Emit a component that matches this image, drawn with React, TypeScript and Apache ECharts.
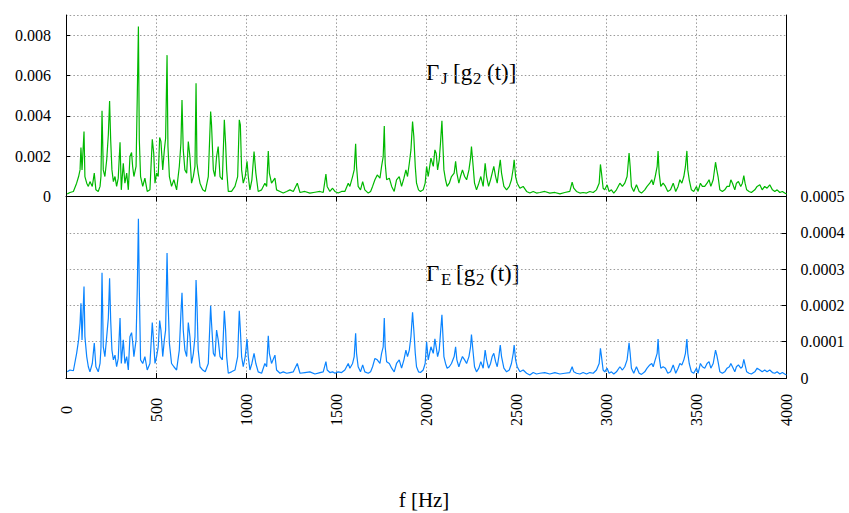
import React, { useEffect, useRef } from "react";
import * as echarts from "echarts";

// Frequency samples (Hz)
const FREQ_HZ: number[] = [
  7, 22, 41, 59, 70, 78, 83, 89, 100, 105, 115, 124, 133, 146, 157, 166, 179, 189, 194, 200,
  207, 216, 226, 235, 242, 248, 255, 263, 272, 281, 290, 300, 307, 318, 327, 337, 346, 355, 364, 370,
  377, 389, 396, 402, 407, 414, 426, 438, 451, 466, 479, 487, 494, 503, 512, 520, 527, 537, 546, 553,
  561, 566, 574, 586, 599, 614, 629, 638, 644, 651, 660, 670, 679, 688, 697, 707, 716, 722, 727, 734,
  744, 759, 773, 790, 803, 808, 818, 827, 836, 845, 855, 868, 879, 886, 892, 901, 919, 938, 953, 962,
  968, 975, 984, 995, 1005, 1012, 1021, 1032, 1044, 1054, 1067, 1086, 1104, 1114, 1123, 1129, 1141, 1160, 1169, 1188,
  1206, 1225, 1243, 1262, 1284,
  1299, 1326, 1354, 1382, 1410, 1428, 1443, 1450, 1465, 1480, 1493, 1511, 1530, 1548, 1567, 1576, 1591, 1600, 1608, 1613,
  1622, 1635, 1647, 1659, 1678, 1691, 1702, 1715, 1728, 1743, 1752, 1761, 1767, 1772, 1780, 1795, 1808, 1822, 1835, 1850,
  1863, 1876, 1887, 1896, 1906, 1915, 1924, 1931, 1939, 1946, 1957, 1968, 1983, 1994, 2002, 2011, 2026, 2039, 2048, 2055,
  2063, 2072, 2079, 2087, 2092, 2098, 2107, 2116, 2128, 2140, 2155, 2163, 2170, 2181, 2190, 2201, 2213, 2224, 2237, 2246,
  2251, 2259, 2268, 2279, 2292, 2303, 2316, 2327, 2335, 2346, 2357, 2366, 2375, 2385, 2394, 2403, 2411, 2418, 2431, 2446,
  2461, 2473, 2483, 2488, 2496, 2505, 2520, 2538, 2557, 2575, 2594, 2612,
  2631, 2658, 2686, 2714, 2742, 2769, 2797, 2810, 2819, 2834, 2853, 2871, 2890, 2908, 2927, 2945, 2960, 2967, 2973, 2982,
  2991, 3004, 3015, 3028, 3041, 3056, 3075, 3089, 3102, 3115, 3126, 3132, 3139, 3152, 3167, 3182, 3195, 3213, 3226, 3241,
  3252, 3260, 3271, 3282, 3287, 3293, 3302, 3315, 3328, 3341, 3356, 3371, 3385, 3398, 3408, 3419, 3430, 3439, 3447, 3452,
  3460, 3472, 3485, 3500, 3509, 3522, 3533, 3546, 3559, 3570, 3580, 3593, 3606, 3613, 3620, 3630, 3644, 3657, 3670, 3683,
  3691, 3700, 3713, 3722, 3733, 3746, 3755, 3763, 3770, 3779, 3792, 3805, 3824, 3837, 3852, 3865, 3879, 3892, 3907, 3922,
  3935, 3948, 3963, 3977, 3990, 4000,
];

// Γ_J[g2(t)] values, in units of 1e-3
const GAMMA_J_E3: number[] = [
  0.13, 0.20, 0.25, 0.66, 0.99, 1.32, 2.43, 1.32, 3.22, 0.99, 0.66, 0.50, 0.74, 0.50, 1.16, 0.33, 0.25, 0.50, 0.99, 4.25,
  1.32, 0.99, 1.82, 3.06, 4.74, 2.81, 1.32, 0.74, 0.99, 0.50, 0.91, 2.69, 0.33, 1.65, 0.66, 1.16, 0.33, 1.98, 2.18, 1.49,
  0.99, 1.49, 5.12, 8.43, 2.81, 0.99, 0.50, 0.91, 0.25, 0.33, 2.84, 2.15, 0.66, 1.16, 0.99, 2.93, 2.73, 1.32, 2.31, 2.89,
  7.01, 2.48, 0.99, 0.50, 0.83, 0.33, 1.49, 2.64, 4.79, 2.31, 1.32, 1.16, 2.73, 1.98, 0.66, 0.99, 1.49, 5.62, 1.65, 1.16,
  0.66, 0.33, 0.25, 0.99, 4.21, 3.55, 1.32, 0.99, 1.98, 2.48, 0.99, 0.83, 3.80, 2.64, 1.32, 0.25, 0.25, 0.50, 0.99, 3.80,
  3.55, 1.32, 0.66, 0.99, 1.74, 0.99, 0.33, 0.83, 2.23, 1.16, 0.25, 0.33, 0.66, 0.50, 2.26, 1.16, 0.66, 0.91, 0.33, 0.25,
  0.17, 0.25, 0.33, 0.25, 0.66,
  0.20, 0.25, 0.17, 0.21, 0.25, 0.20, 1.11, 0.50, 0.25, 0.41, 0.25, 0.17, 0.25, 0.25, 0.66, 0.50, 0.99, 1.32, 2.61, 1.49,
  0.50, 0.33, 0.74, 0.33, 0.17, 0.25, 0.50, 0.83, 1.07, 0.91, 1.49, 1.98, 3.50, 1.65, 0.83, 0.91, 0.50, 0.25, 0.83, 0.99,
  0.50, 0.91, 1.32, 0.99, 1.65, 2.31, 3.72, 2.98, 1.49, 0.66, 0.33, 0.25, 0.33, 0.66, 1.49, 0.99, 1.90, 1.49, 2.31, 2.15,
  1.32, 1.82, 2.64, 3.75, 2.64, 1.32, 0.83, 0.50, 0.66, 0.99, 1.16, 1.74, 1.16, 0.66, 0.99, 1.32, 0.99, 0.83, 1.32, 1.90,
  2.48, 1.65, 0.66, 0.33, 0.66, 0.99, 0.50, 1.65, 0.99, 0.50, 0.83, 1.16, 1.49, 0.99, 0.66, 1.32, 1.82, 1.16, 0.50, 0.33,
  0.50, 0.83, 1.40, 1.82, 0.99, 0.66, 0.41, 0.50, 0.25, 0.17, 0.25, 0.17,
  0.20, 0.25, 0.17, 0.20, 0.13, 0.20, 0.25, 0.71, 0.41, 0.25, 0.17, 0.20, 0.17, 0.25, 0.20, 0.33, 0.66, 1.59, 1.16, 0.41,
  0.33, 0.58, 0.25, 0.33, 0.17, 0.33, 0.66, 0.50, 0.66, 0.99, 2.15, 1.49, 0.50, 0.25, 0.58, 0.25, 0.17, 0.33, 0.50, 0.66,
  0.83, 0.58, 0.99, 1.49, 2.26, 1.16, 0.50, 0.66, 0.50, 0.25, 0.33, 0.66, 0.25, 0.50, 0.83, 0.66, 0.99, 1.49, 2.26, 1.32,
  0.83, 0.33, 0.25, 0.50, 0.25, 0.66, 0.50, 0.50, 0.66, 0.83, 0.50, 0.83, 1.70, 1.32, 0.99, 0.33, 0.25, 0.33, 0.50, 0.50,
  0.83, 0.66, 0.33, 0.66, 0.74, 0.50, 0.66, 1.04, 0.66, 0.33, 0.25, 0.20, 0.33, 0.50, 0.58, 0.33, 0.50, 0.41, 0.58, 0.33,
  0.25, 0.33, 0.20, 0.25, 0.17, 0.13,
];

// Γ_E[g2(t)] values, in units of 1e-4
const GAMMA_E_E4: number[] = [
  0.17, 0.22, 0.20, 0.68, 1.05, 1.51, 2.06, 1.05, 2.52, 1.14, 0.59, 0.31, 0.17, 0.40, 0.96, 0.31, 0.17, 0.40, 0.82, 2.90,
  0.86, 0.59, 1.14, 1.65, 2.75, 1.60, 0.77, 0.50, 0.63, 0.31, 0.54, 1.65, 0.40, 1.05, 0.40, 0.59, 0.22, 1.14, 1.25, 1.00,
  0.59, 1.05, 2.52, 4.39, 2.43, 0.50, 0.40, 0.59, 0.22, 0.40, 1.53, 0.96, 0.40, 0.59, 0.86, 1.58, 1.32, 0.59, 1.05, 1.32,
  3.44, 2.24, 0.96, 0.40, 0.31, 0.22, 0.77, 1.78, 2.35, 1.32, 0.77, 0.59, 1.53, 1.14, 0.40, 0.68, 1.14, 2.70, 2.06, 0.77,
  0.31, 0.22, 0.17, 0.40, 1.99, 1.51, 0.68, 0.59, 1.32, 1.05, 0.59, 0.50, 1.85, 1.32, 0.59, 0.13, 0.17, 0.22, 0.59, 1.85,
  1.32, 0.59, 0.31, 0.59, 1.07, 0.59, 0.22, 0.40, 0.68, 0.40, 0.17, 0.13, 0.40, 0.31, 1.16, 0.68, 0.40, 0.63, 0.22, 0.13,
  0.17, 0.13, 0.15, 0.17, 0.40,
  0.13, 0.15, 0.17, 0.11, 0.15, 0.17, 0.45, 0.22, 0.15, 0.17, 0.13, 0.17, 0.15, 0.22, 0.40, 0.27, 0.40, 0.59, 1.23, 0.68,
  0.31, 0.17, 0.36, 0.17, 0.13, 0.17, 0.31, 0.54, 0.50, 0.40, 0.68, 0.86, 1.65, 0.86, 0.45, 0.40, 0.27, 0.17, 0.40, 0.50,
  0.27, 0.50, 0.77, 0.59, 0.77, 1.14, 1.81, 1.32, 0.68, 0.31, 0.17, 0.15, 0.22, 0.40, 1.00, 0.50, 0.86, 0.68, 1.08, 0.86,
  0.59, 0.77, 1.23, 1.74, 1.23, 0.59, 0.40, 0.27, 0.31, 0.40, 0.59, 0.86, 0.50, 0.31, 0.45, 0.59, 0.50, 0.40, 0.59, 0.86,
  1.20, 0.77, 0.31, 0.17, 0.27, 0.45, 0.27, 0.77, 0.50, 0.27, 0.40, 0.59, 0.68, 0.45, 0.31, 0.59, 0.91, 0.59, 0.27, 0.17,
  0.22, 0.40, 0.68, 0.91, 0.50, 0.31, 0.17, 0.22, 0.13, 0.08, 0.15, 0.11,
  0.13, 0.15, 0.11, 0.15, 0.11, 0.13, 0.15, 0.31, 0.17, 0.13, 0.11, 0.15, 0.11, 0.15, 0.13, 0.22, 0.40, 0.82, 0.59, 0.22,
  0.17, 0.27, 0.13, 0.17, 0.11, 0.17, 0.31, 0.22, 0.31, 0.50, 0.97, 0.68, 0.27, 0.13, 0.31, 0.13, 0.10, 0.17, 0.27, 0.36,
  0.40, 0.31, 0.50, 0.68, 1.07, 0.59, 0.27, 0.31, 0.27, 0.13, 0.17, 0.36, 0.13, 0.27, 0.40, 0.36, 0.50, 0.68, 1.07, 0.68,
  0.40, 0.17, 0.13, 0.27, 0.13, 0.40, 0.31, 0.27, 0.40, 0.45, 0.27, 0.40, 0.77, 0.63, 0.45, 0.17, 0.13, 0.17, 0.27, 0.31,
  0.40, 0.31, 0.17, 0.31, 0.36, 0.27, 0.31, 0.51, 0.36, 0.17, 0.13, 0.11, 0.17, 0.27, 0.22, 0.17, 0.22, 0.17, 0.22, 0.15,
  0.13, 0.17, 0.11, 0.15, 0.11, 0.08,
];

const X_MIN = 0;
const X_MAX = 4000;
const X_STEP = 500;
const LEFT_MAX = 0.009;
const LEFT_STEP = 0.002;
const RIGHT_MAX = 0.0005;
const RIGHT_STEP = 0.0001;

const AXIS_NAME = "f [Hz]";

const SERIF = "Liberation Serif";

export default function App() {
  const ref = useRef<HTMLDivElement>(null);

  useEffect(() => {
    if (!ref.current) return;
    const chart = echarts.init(ref.current, null, { renderer: "svg" });

    const green = FREQ_HZ.map((f, i) => [f, GAMMA_J_E3[i] * 1e-3]);
    const blue = FREQ_HZ.map((f, i) => [f, GAMMA_E_E4[i] * 1e-4]);

    const dotted = { color: "#9a9a9a", type: [1.5, 2.2] as number[], width: 1 };
    const blackLine = { color: "#000", width: 1 };
    const labelFont = { fontFamily: SERIF, fontSize: 16, color: "#000" };

    const txt = (text: string, x: number, y: number, size: number) => ({
      type: "text",
      x,
      y,
      silent: true,
      style: {
        text,
        fontFamily: SERIF,
        fontSize: size,
        fill: "#000",
        align: "left",
        verticalAlign: "middle",
      },
    });

    chart.setOption({
      animation: false,
      backgroundColor: "#fff",
      textStyle: { fontFamily: SERIF },
      grid: [
        { left: 66, top: 15, width: 720.5, height: 181.5, containLabel: false },
        { left: 66, top: 196.5, width: 720.5, height: 181.5, containLabel: false },
      ],
      xAxis: [
        {
          type: "value",
          gridIndex: 0,
          position: "top",
          min: X_MIN,
          max: X_MAX,
          interval: X_STEP,
          axisLine: { show: true, lineStyle: blackLine },
          axisTick: { show: true, inside: true, length: 5, lineStyle: blackLine },
          axisLabel: { show: false },
          splitLine: { show: true, lineStyle: dotted },
        },
        {
          type: "value",
          gridIndex: 1,
          position: "bottom",
          min: X_MIN,
          max: X_MAX,
          interval: X_STEP,
          axisLine: { show: true, lineStyle: blackLine },
          axisTick: { show: true, inside: true, length: 5, lineStyle: blackLine },
          axisLabel: {
            ...labelFont,
            rotate: 90,
            align: "center",
            verticalAlign: "middle",
            margin: 32,
            formatter: (v: number) => String(v),
          },
          splitLine: { show: true, lineStyle: dotted },
        },
      ],
      yAxis: [
        {
          type: "value",
          gridIndex: 0,
          position: "left",
          min: 0,
          max: LEFT_MAX,
          interval: LEFT_STEP,
          axisLine: { show: true, lineStyle: blackLine },
          axisTick: { show: true, inside: true, length: 4, lineStyle: blackLine },
          axisLabel: {
            ...labelFont,
            margin: 15,
            showMaxLabel: false,
            formatter: (v: number) => (v === 0 ? "0" : v.toFixed(3)),
          },
          splitLine: { show: true, lineStyle: dotted },
        },
        {
          type: "value",
          gridIndex: 0,
          position: "right",
          min: 0,
          max: LEFT_MAX,
          axisLine: { show: true, lineStyle: blackLine },
          axisTick: { show: false },
          axisLabel: { show: false },
          splitLine: { show: false },
        },
        {
          type: "value",
          gridIndex: 1,
          position: "left",
          min: 0,
          max: RIGHT_MAX,
          axisLine: { show: true, lineStyle: blackLine },
          axisTick: { show: false },
          axisLabel: { show: false },
          splitLine: { show: false },
        },
        {
          type: "value",
          gridIndex: 1,
          position: "right",
          min: 0,
          max: RIGHT_MAX,
          interval: RIGHT_STEP,
          axisLine: { show: true, lineStyle: blackLine },
          axisTick: { show: true, inside: true, length: 5, lineStyle: blackLine },
          axisLabel: {
            ...labelFont,
            margin: 14,
            formatter: (v: number) => (v === 0 ? "0" : v.toFixed(4)),
          },
          splitLine: { show: true, lineStyle: dotted },
        },
      ],
      series: [
        {
          name: "Gamma_J",
          type: "line",
          xAxisIndex: 0,
          yAxisIndex: 0,
          data: green,
          showSymbol: false,
          symbol: "none",
          lineStyle: { color: "#00b800", width: 1.2 },
          itemStyle: { color: "#00b800" },
          z: 5,
        },
        {
          name: "Gamma_E",
          type: "line",
          xAxisIndex: 1,
          yAxisIndex: 3,
          data: blue,
          showSymbol: false,
          symbol: "none",
          lineStyle: { color: "#0a84ff", width: 1.2 },
          itemStyle: { color: "#0a84ff" },
          z: 5,
        },
      ],
      graphic: [
        txt("Γ", 426, 72, 23),
        txt("J", 441, 78, 17),
        txt("[g", 453, 72, 23),
        txt("2", 473, 78, 17),
        txt("(t)]", 487, 72, 23),
        txt("Γ", 426, 273, 23),
        txt("E", 441, 279, 17),
        txt("[g", 456, 273, 23),
        txt("2", 476, 279, 17),
        txt("(t)]", 490, 273, 23),
        {
          type: "text",
          x: 424,
          y: 500,
          silent: true,
          style: {
            text: AXIS_NAME,
            fontFamily: SERIF,
            fontSize: 21,
            fill: "#000",
            align: "center",
            verticalAlign: "middle",
          },
        },
      ],
    });

    return () => chart.dispose();
  }, []);

  return (
    <div
      ref={ref}
      style={{ position: "absolute", left: 0, top: 0, width: 849, height: 513, background: "#fff" }}
    />
  );
}
